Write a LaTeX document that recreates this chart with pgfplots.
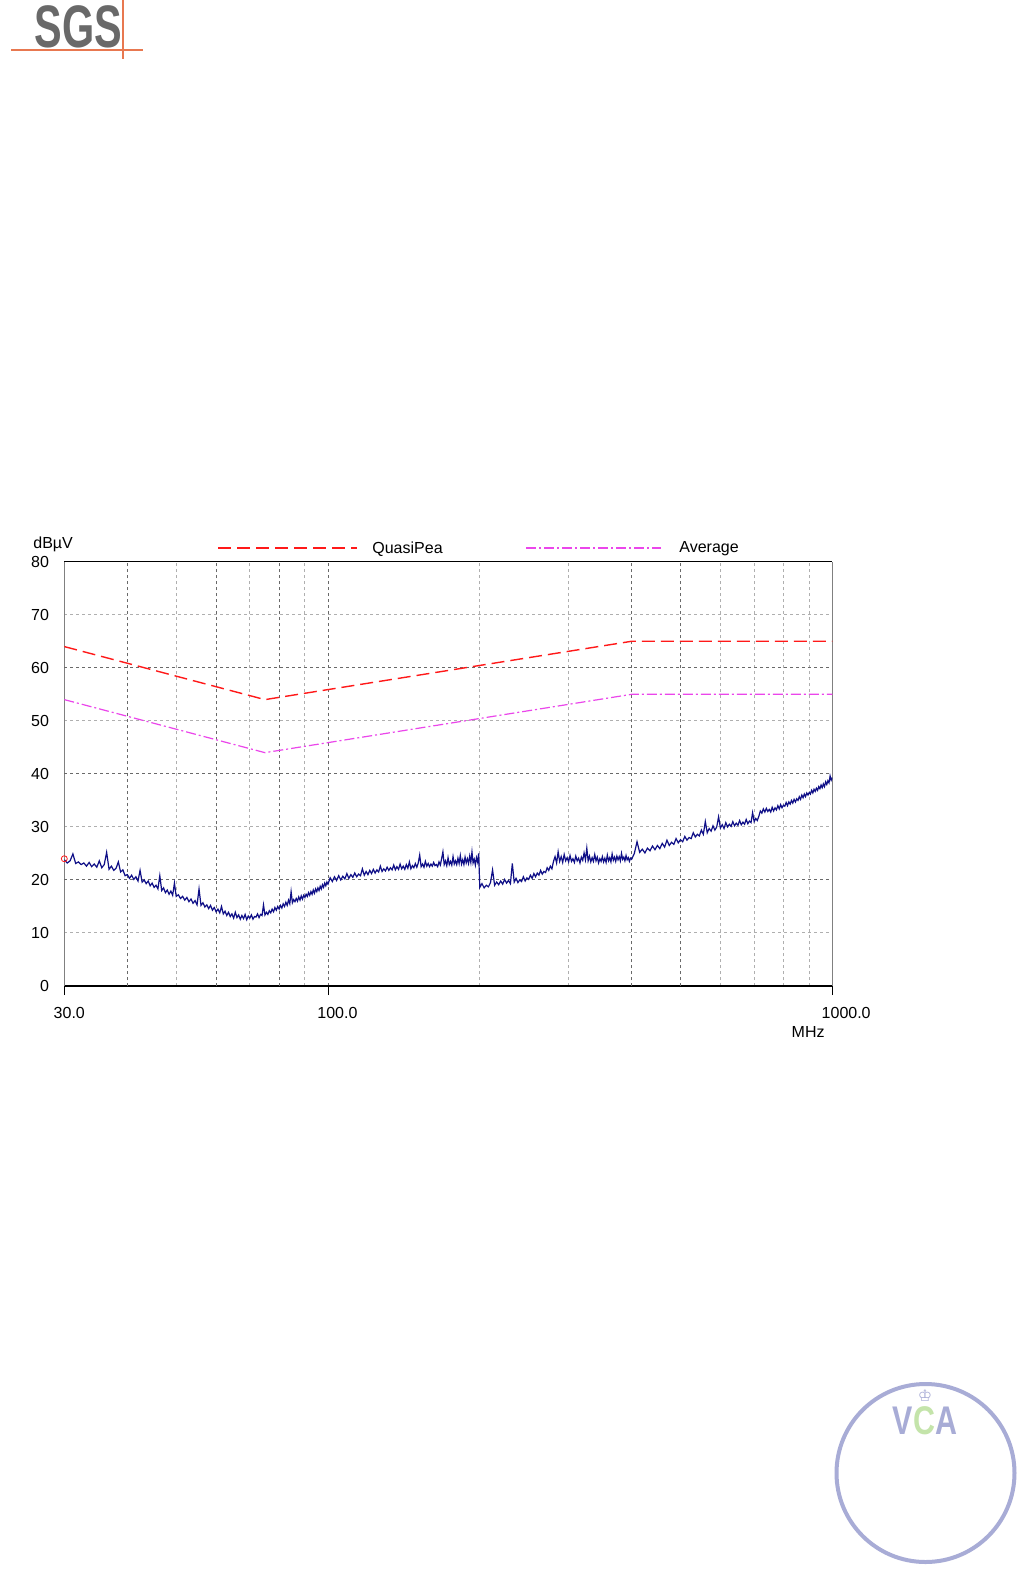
\documentclass[border=0pt]{standalone}
\usepackage{pgfplots}
\pgfplotsset{compat=1.18}
\usepackage{fontspec}
\setmainfont{Liberation Sans}
\newfontfamily\dejavu{DejaVu Sans}
\definecolor{trace}{RGB}{15,15,135}
\definecolor{qp}{RGB}{255,25,25}
\definecolor{avg}{RGB}{235,70,235}
\definecolor{griddark}{RGB}{105,105,105}
\definecolor{gridlight}{RGB}{175,175,175}
\definecolor{sgsgray}{RGB}{105,105,105}
\definecolor{sgsorange}{RGB}{232,120,80}
\definecolor{vcablue}{RGB}{168,172,214}
\definecolor{vcagreen}{RGB}{196,228,170}

\begin{document}
\begin{tikzpicture}
% page, in pixels of the 1030x1576 sheet (origin top left)
\begin{scope}[x=0.5pt,y=-0.5pt]
\path[fill=white, use as bounding box] (0,0) rectangle (1030,1576);
% SGS logo
\node[text=sgsgray, font=\bfseries\fontsize{30}{30}\selectfont, xscale=0.69, inner sep=0pt] at (78.5,27) {SGS};
\draw[sgsorange, line width=0.6pt] (11,50) -- (143,50);
\draw[sgsorange, line width=0.6pt] (123,0) -- (123,59);
% legend and axis captions
\draw[qp, line width=0.7pt, dash pattern=on 6.5pt off 3pt] (218,548) -- (357,548);
\node[anchor=west, inner sep=0pt, font=\fontsize{8}{9}\selectfont] at (372,549) {QuasiPea};
\draw[avg, line width=0.6pt, dash pattern=on 5pt off 1.5pt on 1pt off 1.5pt] (526,548) -- (661,548);
\node[anchor=west, inner sep=0pt, font=\fontsize{8}{9}\selectfont] at (679,549) {Average};
\node[anchor=west, inner sep=0pt, font=\fontsize{8}{9}\selectfont] at (33,544) {dBµV};
\node[anchor=east, inner sep=0pt, font=\fontsize{8}{9}\selectfont] at (825,1032) {MHz};
% VCA stamp
\draw[vcablue, line width=2pt] (925.5,1473) circle[radius=44.5pt];
\node[text=vcablue, font=\bfseries\fontsize{20}{20}\selectfont, xscale=0.76, inner sep=0pt] at (902.5,1421) {V};
\node[text=vcagreen, font=\bfseries\fontsize{20}{20}\selectfont, xscale=0.76, inner sep=0pt] at (924,1421) {C};
\node[text=vcablue, font=\bfseries\fontsize{20}{20}\selectfont, xscale=0.76, inner sep=0pt] at (946,1421) {A};
\node[text=vcablue, font=\dejavu\fontsize{8}{8}\selectfont, inner sep=0pt] at (925,1396) {♔};
\end{scope}

\begin{axis}[
  at={(32.15pt,-493pt)}, anchor=south west,
  scale only axis, width=384pt, height=212.15pt,
  xmode=log, xmin=30, xmax=1000, ymin=0, ymax=80,
  xtick={30,100,1000}, xticklabels={30.0,100.0,1000.0},
  minor xtick={40,50,60,70,80,90,200,300,400,500,600,700,800,900},
  extra x ticks={40,60,80,400,500}, extra x tick labels={},
  extra x tick style={major tick length=0pt},
  ytick={0,10,...,80},
  extra y ticks={20,40,60}, extra y tick labels={},
  extra y tick style={major y grid style={griddark, line width=0.5pt, dash pattern=on 1.5pt off 1.5pt}},
  xmajorgrids, xminorgrids, ymajorgrids,
  major x grid style={griddark, line width=0.5pt, dash pattern=on 1.5pt off 1.5pt},
  minor x grid style={gridlight, line width=0.5pt, dash pattern=on 1.5pt off 1.5pt},
  major y grid style={gridlight, line width=0.5pt, dash pattern=on 1.5pt off 1.5pt},
  tick align=outside, xtick pos=bottom, ytick pos=left,
  major tick length=4.5pt, minor tick length=0pt,
  ytick style={draw=none},
  xtick style={black, line width=0.5pt},
  separate axis lines,
  x axis line style={black, line width=0.7pt},
  y axis line style={gray, line width=0.6pt},
  tick label style={font=\fontsize{8}{9}\selectfont},
  /pgf/number format/assume math mode=true,
  xticklabel style={anchor=north west, inner sep=0pt, xshift=-5.5pt, yshift=-6pt},
  yticklabel style={anchor=east, inner sep=0pt, xshift=-3pt},
  clip=true,
]
% QuasiPeak limit
\addplot[qp, line width=0.7pt, dash pattern=on 6.5pt off 3pt] coordinates {(30,64) (75,54) (400,65) (1000,65)};
% Average limit
\addplot[avg, line width=0.6pt, dash pattern=on 5pt off 1.5pt on 1pt off 1.5pt] coordinates {(30,54) (75,44) (400,55) (1000,55)};
% measured trace
\addplot[trace, line width=0.6pt] coordinates {
(30.0,23.8)(30.4,23.2)(30.8,23.6)(31.2,24.9)(31.6,23.1)(32.0,23.4)(32.4,22.9)(32.8,23.2)(33.2,22.6)(33.6,23.3)
(34.0,22.5)(34.4,23.0)(34.8,22.4)(35.2,23.6)(35.6,22.3)(36.0,22.9)(36.4,25.2)(36.8,22.0)(37.2,22.6)(37.6,21.8)
(38.0,22.2)(38.4,23.4)(38.8,21.5)(39.2,21.9)(39.6,20.8)(40.0,21.0)(40.4,20.3)(40.8,20.9)(41.2,20.1)(41.6,20.6)
(42.0,19.8)(42.4,21.8)(42.8,19.6)(43.2,20.0)(43.6,19.3)(44.0,19.8)(44.4,18.9)(44.8,19.4)(45.2,18.6)(45.6,19.0)
(46.0,18.3)(46.4,20.8)(46.8,18.0)(47.2,18.5)(47.6,17.6)(48.0,18.1)(48.4,17.3)(48.8,17.9)(49.2,17.1)(49.6,19.4)
(50.0,16.9)(50.5,17.2)(51.0,16.5)(51.5,16.9)(52.0,16.2)(52.5,16.7)(53.0,15.9)(53.5,16.4)(54.0,15.6)(54.5,16.1)
(55.0,15.3)(55.5,18.3)(56.0,15.2)(56.5,15.7)(57.0,14.9)(57.5,15.3)(58.0,14.6)(58.5,15.2)(59.0,14.3)(59.5,14.8)
(60.0,14.0)(60.5,14.5)(61.0,13.8)(61.5,15.0)(62.0,13.6)(62.5,14.1)(63.0,13.3)(63.5,13.9)(64.0,13.1)(64.5,13.6)
(65.0,12.8)(65.5,13.9)(66.0,12.9)(66.5,13.4)(67.0,12.6)(67.5,13.3)(68.0,12.7)(68.5,13.5)(69.0,12.5)(69.5,13.2)
(70.0,12.8)(70.5,13.4)(71.0,12.6)(71.5,13.1)(72.0,13.0)(72.5,13.6)(73.0,12.9)(73.5,13.5)(74.0,13.3)(74.5,15.3)
(75.0,13.4)(75.5,13.9)(76.0,13.5)(76.5,14.2)(77.0,13.8)(77.5,14.5)(78.0,14.0)(78.5,14.8)(79.0,14.3)(79.5,15.0)
(80.0,14.5)(80.5,15.2)(81.0,14.7)(81.5,15.5)(82.0,15.0)(82.5,15.8)(83.0,15.2)(83.5,16.2)(84.0,15.5)(84.5,17.8)
(85.0,15.7)(85.5,16.3)(86.0,15.9)(86.5,16.5)(87.0,16.0)(87.5,16.8)(88.0,16.2)(88.5,17.0)(89.0,16.4)(89.5,17.1)
(90.0,16.7)(90.5,17.3)(91.0,16.9)(91.5,17.6)(92.0,17.1)(92.5,17.8)(93.0,17.3)(93.5,18.1)(94.0,17.5)(94.5,18.3)
(95.0,17.8)(95.5,18.5)(96.0,18.0)(96.5,18.8)(97.0,18.3)(97.5,19.1)(98.0,18.6)(98.5,19.4)(99.0,18.9)(99.5,19.6)
(100,19.2)(101,20.4)(102,19.7)(103,20.6)(104,19.9)(105,20.8)(106,20.0)(107,20.7)(108,20.2)(109,21.2)
(110,20.3)(111,21.0)(112,20.5)(113,21.3)(114,20.6)(115,21.1)(116,20.8)(117,22.1)(118,20.9)(119,21.6)
(120,21.0)(121,21.8)(122,21.2)(123,22.0)(124,21.3)(125,21.9)(126,21.5)(127,22.6)(128,21.6)(129,22.1)
(130,21.7)(131,22.4)(132,21.8)(133,22.3)(134,21.9)(135,22.8)(136,21.9)(137,22.5)(138,22.0)(139,23.0)
(140,22.1)(141,22.6)(142,22.0)(143,22.9)(144,22.2)(145,23.4)(146,22.1)(147,22.7)(148,22.3)(149,23.1)
(150,22.4)(151,23.2)(152,24.7)(153,22.5)(154,23.0)(155,22.4)(156,23.5)(157,22.6)(158,23.1)(159,22.5)
(160,23.0)(161,22.6)(162,23.3)(163,22.7)(164,22.9)(165,22.5)(166,23.4)(167,22.8)(168,24.0)(169,25.3)
(170,22.9)(171,23.6)(172,22.7)(173,24.2)(174,22.9)(175,23.5)(176,22.8)(177,24.4)(178,23.0)(179,23.6)
(180,22.9)(181,24.1)(182,23.1)(183,24.6)(184,23.0)(185,23.8)(186,22.9)(187,24.3)(188,23.2)(189,24.0)
(190,23.1)(191,24.5)(192,23.3)(193,25.3)(194,23.2)(195,23.9)(196,22.8)(197,24.2)(198,23.4)(199,25.0)
(200,18.6)(202,19.3)(204,18.5)(206,19.0)(208,18.7)(210,19.5)(212,21.9)(214,19.0)(216,19.6)(218,19.1)
(220,19.8)(222,19.2)(224,20.1)(226,19.4)(228,19.9)(230,19.3)(232,23.1)(234,19.6)(236,20.3)(238,19.5)
(240,20.0)(242,19.7)(244,20.6)(246,19.8)(248,20.4)(250,20.1)(252,20.9)(254,20.3)(256,21.2)(258,20.6)
(260,21.3)(262,20.9)(264,21.8)(266,21.1)(268,21.6)(270,21.4)(272,22.3)(274,21.8)(276,22.6)(278,22.1)
(280,23.5)(282,24.4)(284,23.2)(286,25.3)(288,23.5)(290,24.4)(292,23.3)(294,24.8)(296,23.6)(298,24.2)
(300,23.4)(302,24.6)(304,23.5)(306,24.0)(308,23.3)(310,24.5)(312,23.6)(314,24.1)(316,23.2)(318,24.3)
(320,23.7)(322,25.1)(324,23.8)(326,26.0)(328,23.6)(330,24.5)(332,23.4)(334,24.2)(336,23.5)(338,24.8)
(340,23.6)(342,24.3)(344,23.2)(346,24.0)(348,23.5)(350,24.4)(352,23.4)(354,24.1)(356,23.3)(358,24.7)
(360,23.6)(362,24.2)(364,23.4)(366,24.9)(368,23.7)(370,24.3)(372,23.5)(374,24.5)(376,23.8)(378,24.4)
(380,23.6)(382,25.0)(384,23.9)(386,24.3)(388,23.6)(390,24.6)(392,23.8)(394,24.2)(396,23.5)(398,24.1)
(400,23.9)(405,25.0)(410,27.2)(415,25.2)(420,25.8)(425,25.1)(430,26.0)(435,25.5)(440,26.4)(445,25.7)
(450,26.5)(455,25.9)(460,26.9)(465,26.2)(470,27.5)(475,26.5)(480,27.1)(485,26.7)(490,27.8)(495,27.0)
(500,27.6)(505,27.2)(510,28.2)(515,27.5)(520,28.0)(525,27.8)(530,28.9)(535,28.1)(540,28.6)(545,28.3)
(550,29.4)(555,28.6)(560,31.0)(565,28.9)(570,29.7)(575,29.2)(580,30.2)(585,29.4)(590,30.0)(595,31.9)
(600,29.8)(605,30.4)(610,29.7)(615,30.8)(620,30.0)(625,30.5)(630,30.1)(635,31.0)(640,30.2)(645,30.7)
(650,30.3)(655,31.2)(660,30.4)(665,30.9)(670,30.5)(675,31.4)(680,30.6)(685,31.1)(690,30.8)(695,32.7)
(700,31.0)(705,31.6)(710,31.2)(715,32.0)(720,33.0)(725,32.6)(730,33.4)(735,32.8)(740,33.5)(745,32.9)
(750,33.3)(755,32.8)(760,33.7)(765,33.0)(770,33.6)(775,33.2)(780,34.0)(785,33.4)(790,34.2)(795,33.6)
(800,34.1)(805,33.9)(810,34.6)(815,34.0)(820,34.7)(825,34.3)(830,35.0)(835,34.5)(840,35.2)(845,34.7)
(850,35.3)(855,35.0)(860,35.7)(865,35.2)(870,36.0)(875,35.5)(880,36.2)(885,35.7)(890,36.4)(895,36.0)
(900,36.5)(905,36.2)(910,36.9)(915,36.4)(920,37.1)(925,36.7)(930,37.3)(935,36.9)(940,37.6)(945,37.2)
(950,37.9)(955,37.4)(960,38.1)(965,37.6)(970,38.5)(975,38.0)(980,38.7)(985,38.3)(990,39.6)(995,38.8)
(1000,39.3)
};
% start marker
\addplot[only marks, mark=o, qp, mark size=1.5pt, line width=0.4pt] coordinates {(30,24.0)};
\end{axis}
\end{tikzpicture}
\end{document}
